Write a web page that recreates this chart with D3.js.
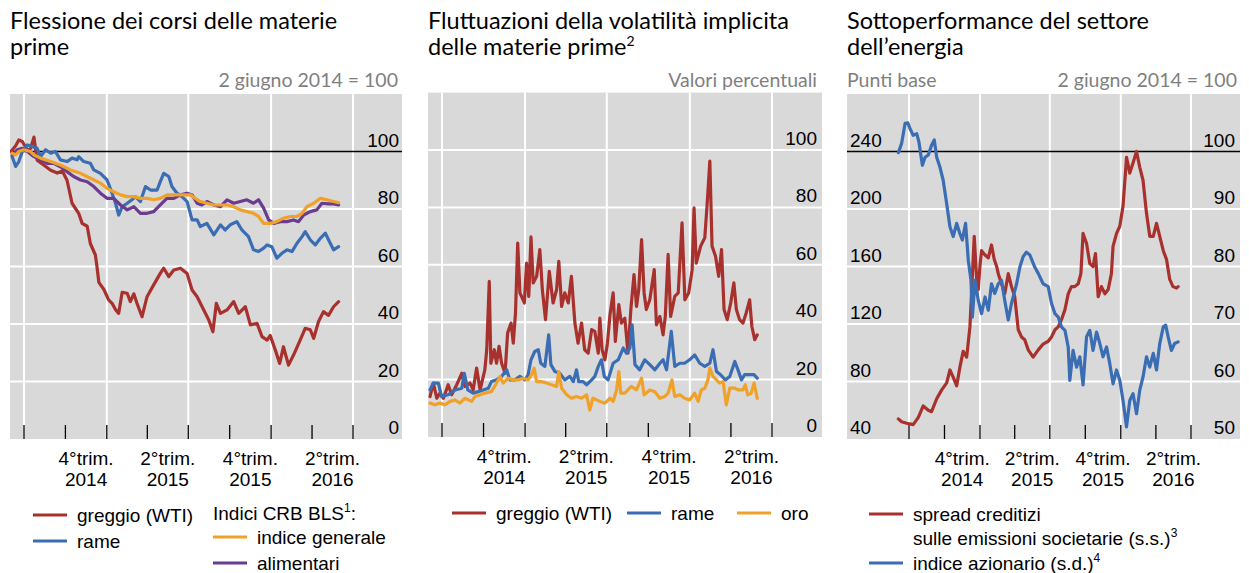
<!DOCTYPE html>
<html><head><meta charset="utf-8">
<script src="https://cdn.jsdelivr.net/npm/d3@7/dist/d3.min.js"></script>
<style>body{margin:0;background:#fff}svg{display:block}</style>
</head><body><svg id="c" width="1249" height="573"></svg>
<script>
// ---------- DATA (x = weeks since 2 June 2014, y = value) ----------
const xTickLabels = [["4°trim.","2014"],["2°trim.","2015"],["4°trim.","2015"],["2°trim.","2016"]];
const xLabelQuarterStarts = ["2014-10-01","2015-04-01","2015-10-01","2016-04-01"];
const p1Ticks = [0,20,40,60,80,100];
const p2Ticks = [0,20,40,60,80,100];
const p3LeftTicks = [40,80,120,160,200,240];
const p3RightTicks = [50,60,70,80,90,100];

const wti1 = [[0,100],[1.5,102],[2.5,104],[3.6,103.5],[5.2,100.5],[6.2,101],[7.3,105],[8.3,97],[10.4,95.3],[12.6,93.5],[14.7,92.5],[16.3,93.2],[17.8,90],[19.4,82],[21.5,78.5],[22.6,75],[24.2,74],[25.2,68],[26.8,64],[27.3,60],[27.9,54.5],[29.5,52],[31,48.4],[32.1,47.2],[33.2,45],[34.2,43.7],[35.3,51],[36.9,50.7],[37.9,47.8],[39,50.5],[40,47.2],[41.6,42.5],[43.2,49.5],[45.3,53.6],[47.4,57.6],[48.5,59.4],[50.1,56.5],[51.7,58.8],[53.8,59.4],[55.9,57.6],[57.5,51.8],[59.1,49.5],[61.2,44.9],[62.8,41.4],[64.1,37.3],[65.2,47.2],[66.5,43.7],[68.6,44.9],[70.7,47.8],[72.3,43.7],[74.4,46],[76,39.7],[78.1,40.2],[79.7,35.6],[81.3,34.4],[82.3,36],[83.9,31],[85.3,26.3],[86.5,32.1],[88.1,25.7],[89.7,29.2],[91.8,34.4],[93.4,38.5],[95,38],[96.1,35],[97.6,40.8],[99.2,44.3],[100.8,43],[102.4,46],[104,47.8]];
const copper1 = [[0.4,98.2],[1.5,94.8],[2.5,96.5],[3.6,100],[5.2,102.3],[6.7,101.7],[8.3,101.1],[9.4,98.2],[11,100.6],[12.6,99.4],[14.1,100],[15.7,97.1],[17.8,96.5],[19.4,97.7],[21,97.1],[21.5,98.2],[23.1,96.5],[25.2,95.9],[26.3,93.6],[28.4,92.4],[30.5,90.1],[32.1,85.5],[33.2,82],[34.2,77.9],[35.3,80.8],[36.9,82],[38.4,83.2],[39.5,84.3],[41.1,82.6],[42.7,87.8],[44.3,86.6],[46.4,86.6],[47.4,89.5],[48.5,92.4],[50.1,91.3],[51.1,87.8],[52.7,85.5],[54.3,84.3],[55.9,82.6],[57.5,76.2],[59.1,76.2],[60.1,73.9],[62.2,75],[64.4,71],[66.5,74.5],[68,72.7],[69.6,74.5],[71.7,75.6],[73.3,72.7],[75.4,70.4],[77,65.8],[78.6,65.2],[80.2,66.4],[81.3,67.5],[82.8,66.9],[84.4,62.9],[86,64.6],[87.6,65.8],[89.2,65.2],[90.8,68.1],[92.4,70.4],[93.4,72.1],[95,69.3],[96.6,67.5],[98.2,69.8],[99.8,71.6],[100.8,69.3],[102.4,65.8],[104,66.9]];
const crbAll1 = [[0.4,99.4],[1.5,98.8],[2.5,100],[4.1,100.6],[6.2,100],[7.3,98.8],[9.4,97.7],[12.6,96.5],[15.7,95.3],[18.9,93.6],[22.1,92.4],[25.2,90.7],[28.4,89],[30.5,87.2],[32.6,86],[34.8,84.9],[36.9,84.3],[39,84.3],[41.1,83.7],[43.2,83.7],[45.3,83.2],[47.4,83.7],[49.5,84.9],[51.7,84.9],[53.8,84.9],[55.4,84.9],[57,84.9],[58.5,83.7],[60.1,82.6],[62.2,82],[64.4,81.4],[66.5,81.4],[68.6,81.4],[70.7,80.8],[72.8,79.7],[74.9,79.1],[77,78.5],[78.6,77.4],[80.2,75],[82.3,75],[84.4,75.6],[86.5,76.8],[88.7,77.4],[90.8,77.4],[92.4,78.5],[93.9,80.8],[96.1,82],[98.2,83.7],[100.3,83.2],[102.4,82.6],[104,82.2]];
const crbFood1 = [[0.4,98.8],[2,100.6],[3.6,101.1],[5.2,100],[7.3,98.2],[9.4,97.1],[11.5,95.9],[13.6,95.9],[15.7,94.7],[17.8,93],[19.9,91.3],[22.1,90.1],[24.2,89.5],[26.3,87.8],[28.4,85.5],[30.5,83.7],[32.6,83.7],[34.8,81.4],[36.9,79.7],[39,80.8],[41.1,78.5],[43.2,78.5],[45.3,79.1],[47.4,81.4],[49.5,83.7],[51.7,83.7],[53.8,84.9],[55.9,85.5],[57.5,84.9],[59.1,82],[60.6,81.4],[62.2,82.6],[64.4,81.4],[66.5,80.8],[68.6,83.2],[70.7,82],[72.8,82.6],[74.9,83.2],[77,82],[78.6,83.2],[80.2,80.3],[81.8,76.2],[83.4,75],[85.5,75.6],[87.6,75.6],[89.7,76.2],[91.3,75.6],[92.9,77.9],[95,79.1],[97.1,79.7],[98.7,82],[100.8,81.8],[102.4,81.8],[104,81.4]];

const wti2 = [[0.35,14.1],[1.4,18.8],[2.5,13.5],[3.5,15.3],[4.6,13.5],[6.1,18.2],[7.2,14.7],[8.8,18.2],[10.4,22.2],[11.4,17.6],[13,18.8],[14,16.4],[15.1,24],[16.2,16.4],[17.7,23.4],[18.3,30.4],[19.1,54.2],[19.6,25.7],[20.7,30.4],[21.4,25.7],[22.2,31.6],[23,25.7],[24.1,22.2],[24.9,36.2],[26,39.7],[26.7,32.7],[27.4,43.2],[28.1,67.6],[28.8,50.2],[30.2,46.7],[30.9,60.6],[31.6,49],[32.3,69.7],[33,53.7],[34.1,56],[35.1,65.3],[35.9,51.3],[36.9,40.9],[38.1,57.7],[39.3,46.7],[40.4,51.3],[41.1,61.2],[42,45.5],[43,50.2],[44.1,46.7],[45.1,56],[46.2,39.7],[47.2,32.7],[48.3,39.7],[49.3,30.4],[50.4,29.2],[51.5,37.4],[52.5,36.8],[53.6,29.2],[54.1,41.4],[54.8,30.4],[55.7,26.9],[56.5,32.7],[57.3,42.6],[58.3,50.2],[59,33.3],[60.1,46.1],[60.9,39.7],[62,41.4],[63,29.2],[63.9,44.4],[64.9,56.6],[65.7,45.5],[66.4,51.3],[67.3,68.8],[68.1,50.2],[68.8,44.4],[69.9,47.8],[71.3,58.3],[72,39.1],[73.1,42],[74.1,35.6],[74.8,42],[75.7,63.6],[76.5,42],[77.8,49],[78.9,50.2],[80.1,74.6],[81,47.8],[82.2,50.2],[83.3,58.3],[83.9,79.8],[84.6,60.6],[86,66.5],[87.3,69.4],[88,80.4],[88.9,96.1],[89.6,66.5],[90.7,63],[91.7,56],[92.6,65.3],[93.4,44.4],[94.4,40.9],[95.5,46.7],[96.5,53.7],[97.3,44.4],[98.3,40.9],[99.4,39.7],[100.4,43.2],[101.5,47.8],[102.2,38.5],[103.1,33.9],[103.9,35.6]];
const copper2 = [[0.35,16.4],[1.4,18.8],[3,18.8],[4,14.1],[6.1,14.7],[8.3,16.4],[10.4,17],[11.2,22.2],[12.3,16.4],[14,15.3],[15.6,15.8],[17.2,16.4],[18.8,17],[19.8,19.3],[21.4,19.9],[23,21.1],[24.6,23.4],[25.6,19.9],[27.2,19.9],[28.8,21.1],[30.4,19.9],[31.4,21.7],[32.3,26.9],[33.5,29.8],[34.6,30.4],[35.4,25.7],[36.7,24.6],[37.9,35.6],[38.6,25.2],[39.9,22.8],[41.4,22.2],[43,19.9],[44.6,21.1],[45.7,19.3],[46.7,23.4],[47.4,19.3],[48.8,19.3],[49.9,18.2],[51.5,19.9],[52.5,21.1],[53.6,24.6],[54.6,26.9],[55.5,21.1],[56.7,19.9],[58.3,25.7],[59.9,26.9],[61.5,31],[62.5,29.2],[63.6,31],[64.3,39.1],[65.2,25.2],[66.7,23.4],[68.3,26.9],[69.9,25.2],[71.5,23.4],[73.1,25.7],[74.1,26.9],[75.2,23.4],[76.7,36.8],[77.8,24.6],[79.4,25.7],[80.9,25.7],[82.5,26.9],[84.1,28.6],[85.7,25.7],[87.3,24.6],[88.9,25.7],[89.9,30.4],[91,22.8],[92.3,21.7],[93.8,19.9],[95.2,21.1],[96.8,26.3],[97.8,23.4],[98.9,19.9],[99.9,21.7],[101.5,21.7],[102.9,21.7],[103.9,20.5]];
const gold2 = [[0.35,11.8],[1.9,11.2],[3.5,11.8],[5.1,11.2],[6.7,12.4],[8.3,12.9],[9.8,11.8],[11.4,13.5],[13.5,12.4],[14.6,14.1],[16.2,14.7],[17.7,15.3],[19.8,15.8],[21.4,18.8],[22.5,21.1],[23.5,18.8],[25.1,20.5],[26.7,19.9],[28.3,19.9],[29.8,20.5],[31.4,19.9],[32.5,21.7],[33.3,24],[34.1,19.3],[35.6,19.3],[37.2,18.8],[38.8,18.2],[40.4,17.6],[41.1,22.8],[42,17],[43.6,14.7],[45.1,13.5],[46.7,14.1],[48.3,13.5],[49.9,14.7],[50.9,9.4],[51.9,13.5],[54.1,12.4],[55.7,11.8],[57.3,13.5],[58.3,12.4],[59.4,16.4],[60.1,22.8],[60.7,15.3],[62,15.3],[63,16.4],[64.1,17.6],[65.7,16.4],[67.3,20.5],[68.1,14.7],[69.9,16.4],[71.5,15.8],[73.1,13.5],[74.6,14.1],[75.7,15.3],[76.9,19.9],[77.8,14.1],[79.4,14.7],[80.9,13.5],[82.5,12.9],[84.1,15.3],[85.2,12.4],[86.2,16.4],[87.3,17],[88.3,19.9],[88.9,24],[89.9,21.1],[91,19.9],[92,18.8],[93.1,19.3],[94.1,11.2],[95.2,17],[96.8,17],[97.8,16.4],[99.4,16.4],[100.1,18.2],[100.9,14.7],[102,15.3],[102.9,18.8],[103.9,13.5]];

const spread3 = [[0.2,54],[1.4,52],[3.3,51],[5.7,50],[7.6,55],[9.4,63],[11.3,60],[12.5,59],[14.4,68],[16.2,74],[18.1,79],[19.3,88],[20.5,83],[21.8,77],[23,90],[24.2,101],[25.5,97],[26.7,118],[27.3,141],[28.3,181],[29.2,151],[29.8,144],[30.4,160],[31,171],[32.3,168],[33.5,166],[34.7,175],[35.7,165],[36.6,160],[37.2,155],[38.4,148],[39.6,141],[40.9,155],[42.1,146],[43.3,139],[44.6,116],[45.8,111],[47,109],[48.3,102],[50.1,97],[52,102],[53.8,106],[55.7,108],[56.9,111],[58.2,116],[59.4,118],[60.6,123],[61.9,130],[63.1,141],[64.3,146],[65.5,146],[66.8,148],[67.8,155],[68.6,183],[69.9,176],[71.1,162],[72.3,160],[73.2,169],[74.2,139],[75.4,146],[76.7,141],[77.9,144],[79.1,155],[79.7,174],[81,183],[82.2,188],[83.4,202],[84.7,236],[85.9,225],[87.1,232],[88.4,240],[89.6,229],[90.8,220],[92.1,197],[93.3,181],[94.6,181],[95.8,190],[97,181],[98.3,171],[99.5,165],[100.7,151],[101.9,146],[103.2,145],[103.8,146]];
const equity3 = [[0.2,99.8],[1.4,101.4],[2.7,104.9],[3.7,105],[4.5,104],[5.7,102.8],[7,103.1],[7.8,101.7],[9.1,97.6],[10.1,99],[11.3,99.4],[12.5,101.1],[13.5,102],[14.4,99],[15.6,97.3],[16.8,95],[18.1,90.9],[19.3,86.9],[20.5,85.2],[21.8,87.5],[23,85.7],[23.9,84.6],[25.1,87.5],[26.1,81.1],[27.1,77.6],[27.6,71.2],[28.6,77.6],[29.8,74.1],[31,71.8],[32.3,74.7],[33.5,72.4],[34.7,77],[35.9,75.3],[37.2,77],[38.4,77.6],[39.6,74.1],[40.9,70.7],[42.1,73.6],[44,77],[45.2,79.9],[46.4,81.7],[47.6,82.5],[48.9,82],[50.7,79.9],[52,78.8],[53.8,77],[55.7,76.5],[56.9,73.6],[58.2,71.8],[59.4,71.2],[60.6,69.5],[61.9,68.9],[63.1,66],[63.7,60.2],[64.9,65.4],[66.2,62.5],[67.4,64.3],[68.6,59.4],[69.9,67.8],[71.1,68.9],[72.3,65.4],[73.6,68.6],[74.8,66.6],[76,64.3],[77.3,66],[78.5,63.1],[79.7,59.6],[81,62],[82.2,60.2],[83.4,56.7],[84.7,52.1],[85.9,56.7],[87.1,57.9],[88.4,54.4],[89.6,58.5],[90.8,60.8],[92.1,64.3],[93.3,62.5],[94.6,64.9],[95.8,62],[97,66.6],[98.3,69.5],[99.2,69.8],[100.1,67.8],[101.3,65.4],[102.5,66.6],[103.8,66.9]];

// ---------- STYLE ----------
const C = {red:"#a8312d", blue:"#3a6db3", orange:"#f0a12a", purple:"#6a3b8f", bg:"#d9d9d9", grey:"#7f7f7f"};
const TICKFONT = "'Liberation Sans', Arial, sans-serif";
const TITLEFONT = "Lato, 'Open Sans', sans-serif";

const svg = d3.select("#c");
const start = new Date(2014,5,2);
const toDate = w => new Date(start.getTime() + w*7*86400000);
const jul14 = new Date(2014,6,1), jul16 = new Date(2016,6,1);
const quarters = d3.timeMonth.every(3).range(jul14, new Date(2016,6,2));
const halfYears = d3.timeMonth.every(6).range(jul14, new Date(2016,6,2));

let clipId = 0;
function panel(cfg){
  const g = svg.append("g");
  const x = d3.scaleTime().domain([jul14, jul16]).range([cfg.xa, cfg.xb]);
  const yL = d3.scaleLinear().domain(cfg.yL).range([cfg.bottom, cfg.top]);
  const yR = cfg.yR ? d3.scaleLinear().domain(cfg.yR).range([cfg.bottom, cfg.top]) : yL;
  g.append("rect").attr("x",cfg.left).attr("y",cfg.top).attr("width",cfg.right-cfg.left).attr("height",cfg.bottom-cfg.top).attr("fill",C.bg);
  g.selectAll(".hg").data(cfg.rightTicks.filter(v=>v!==cfg.rightTicks[0] && v!==cfg.ref)).enter().append("line")
    .attr("x1",cfg.left).attr("x2",cfg.right).attr("y1",d=>yR(d)).attr("y2",d=>yR(d)).attr("stroke","#fff").attr("stroke-width",2);
  g.selectAll(".vg").data(halfYears).enter().append("line")
    .attr("x1",d=>x(d)).attr("x2",d=>x(d)).attr("y1",cfg.top).attr("y2",cfg.bottom).attr("stroke","#fff").attr("stroke-width",2);
  g.selectAll(".qt").data(quarters).enter().append("line")
    .attr("x1",d=>x(d)).attr("x2",d=>x(d)).attr("y1",cfg.bottom-14).attr("y2",cfg.bottom).attr("stroke","#000").attr("stroke-width",1.3);
  if(cfg.ref!=null){
    g.append("line").attr("x1",cfg.left).attr("x2",cfg.right).attr("y1",yR(cfg.ref)).attr("y2",yR(cfg.ref)).attr("stroke","#000").attr("stroke-width",1.3);
  }
  const id = "clip"+(clipId++);
  g.append("clipPath").attr("id",id).append("rect").attr("x",cfg.left).attr("y",cfg.top).attr("width",cfg.right-cfg.left).attr("height",cfg.bottom-cfg.top);
  const lg = g.append("g").attr("clip-path","url(#"+id+")");
  cfg.series.forEach(s=>{
    const ys = s.axis==="left" ? yL : yR;
    const line = d3.line().x(d=>x(toDate(d[0]))).y(d=>ys(d[1]));
    lg.append("path").attr("d",line(s.data)).attr("fill","none").attr("stroke",s.color)
      .attr("stroke-width",3.2).attr("stroke-linejoin","round").attr("stroke-linecap","round");
  });
  g.selectAll(".rl").data(cfg.rightTicks).enter().append("text")
    .attr("x",cfg.labelRight).attr("y",d=>yR(d)-5).attr("text-anchor","end")
    .style("font-family",TICKFONT).style("font-size","19px").attr("fill","#000").text(d=>d);
  if(cfg.leftTicks){
    g.selectAll(".ll").data(cfg.leftTicks).enter().append("text")
      .attr("x",cfg.labelLeft).attr("y",d=>yL(d)-5).attr("text-anchor","start")
      .style("font-family",TICKFONT).style("font-size","19px").attr("fill","#000").text(d=>d);
  }
  xTickLabels.forEach((lab,i)=>{
    const q0 = new Date(xLabelQuarterStarts[i]+"T00:00:00");
    const q1 = d3.timeMonth.offset(q0,3);
    const cx = (x(q0)+x(q1))/2;
    lab.forEach((t,j)=>{
      g.append("text").attr("x",cx).attr("y",cfg.bottom+26+j*21).attr("text-anchor","middle")
        .style("font-family",TICKFONT).style("font-size","19px").attr("fill","#000").text(t);
    });
  });
  cfg.title.forEach((t,j)=>{
    const tx = g.append("text").attr("x",cfg.left).attr("y",29+j*26)
      .style("font-family",TITLEFONT).style("font-size","23.5px").attr("fill","#000");
    tx.append("tspan").text(t[0]);
    if(t[1]) tx.append("tspan").attr("dy",-9).style("font-size","14px").text(t[1]);
  });
  if(cfg.subRight) g.append("text").attr("x",cfg.subRightX).attr("y",87).attr("text-anchor","end")
    .style("font-family",TITLEFONT).style("font-size","19.5px").attr("fill",C.grey).text(cfg.subRight);
  if(cfg.subLeft) g.append("text").attr("x",cfg.left).attr("y",87)
    .style("font-family",TITLEFONT).style("font-size","19.5px").attr("fill",C.grey).text(cfg.subLeft);
  cfg.legend.forEach(L=>{
    if(L.color) g.append("line").attr("x1",L.x).attr("x2",L.x+34).attr("y1",L.y).attr("y2",L.y).attr("stroke",L.color).attr("stroke-width",3);
    L.lines.forEach((ln,j)=>{
      const t = g.append("text").attr("x",L.color? L.x+44 : L.x).attr("y",L.y+7+j*24)
        .style("font-family",TICKFONT).style("font-size","19px").attr("fill","#000");
      t.append("tspan").text(ln[0]);
      if(ln[1]){ t.append("tspan").attr("dy",-8).style("font-size","12px").text(ln[1]);
        if(ln[2]) t.append("tspan").attr("dy",8).text(ln[2]); }
    });
  });
}

panel({left:10,right:402,top:94,bottom:439,xa:24,xb:353,yL:[0,120],rightTicks:p1Ticks,ref:100,labelRight:399,
  series:[{data:wti1,color:C.red},{data:copper1,color:C.blue},{data:crbFood1,color:C.purple},{data:crbAll1,color:C.orange}],
  title:[["Flessione dei corsi delle materie"],["prime"]], subRight:"2 giugno 2014 = 100", subRightX:398,
  legend:[{x:33,y:515,color:C.red,lines:[["greggio (WTI)"]]},{x:33,y:541,color:C.blue,lines:[["rame"]]},
          {x:213,y:513,lines:[["Indici CRB BLS","1",":"]]},
          {x:213,y:537,color:C.orange,lines:[["indice generale"]]},{x:213,y:563,color:C.purple,lines:[["alimentari"]]}]});

panel({left:428,right:822,top:92.6,bottom:437,xa:442,xb:772,yL:[0,120],rightTicks:p2Ticks,ref:null,labelRight:817,
  series:[{data:wti2,color:C.red},{data:copper2,color:C.blue},{data:gold2,color:C.orange}],
  title:[["Fluttuazioni della volatilità implicita"],["delle materie prime","2"]], subRight:"Valori percentuali", subRightX:817,
  legend:[{x:452,y:513,color:C.red,lines:[["greggio (WTI)"]]},{x:627,y:513,color:C.blue,lines:[["rame"]]},{x:737,y:513,color:C.orange,lines:[["oro"]]}]});

panel({left:847,right:1240,top:94,bottom:439,xa:909,xb:1191,yL:[40,280],yR:[50,110],rightTicks:p3RightTicks,leftTicks:p3LeftTicks,ref:100,labelRight:1235,labelLeft:850,
  series:[{data:spread3,color:C.red,axis:"left"},{data:equity3,color:C.blue}],
  title:[["Sottoperformance del settore"],["dell’energia"]], subRight:"2 giugno 2014 = 100", subRightX:1237, subLeft:"Punti base",
  legend:[{x:869,y:514,color:C.red,lines:[["spread creditizi"],["sulle emissioni societarie (s.s.)","3"]]},
          {x:869,y:563,color:C.blue,lines:[["indice azionario (s.d.)","4"]]}]});
</script></body></html>
